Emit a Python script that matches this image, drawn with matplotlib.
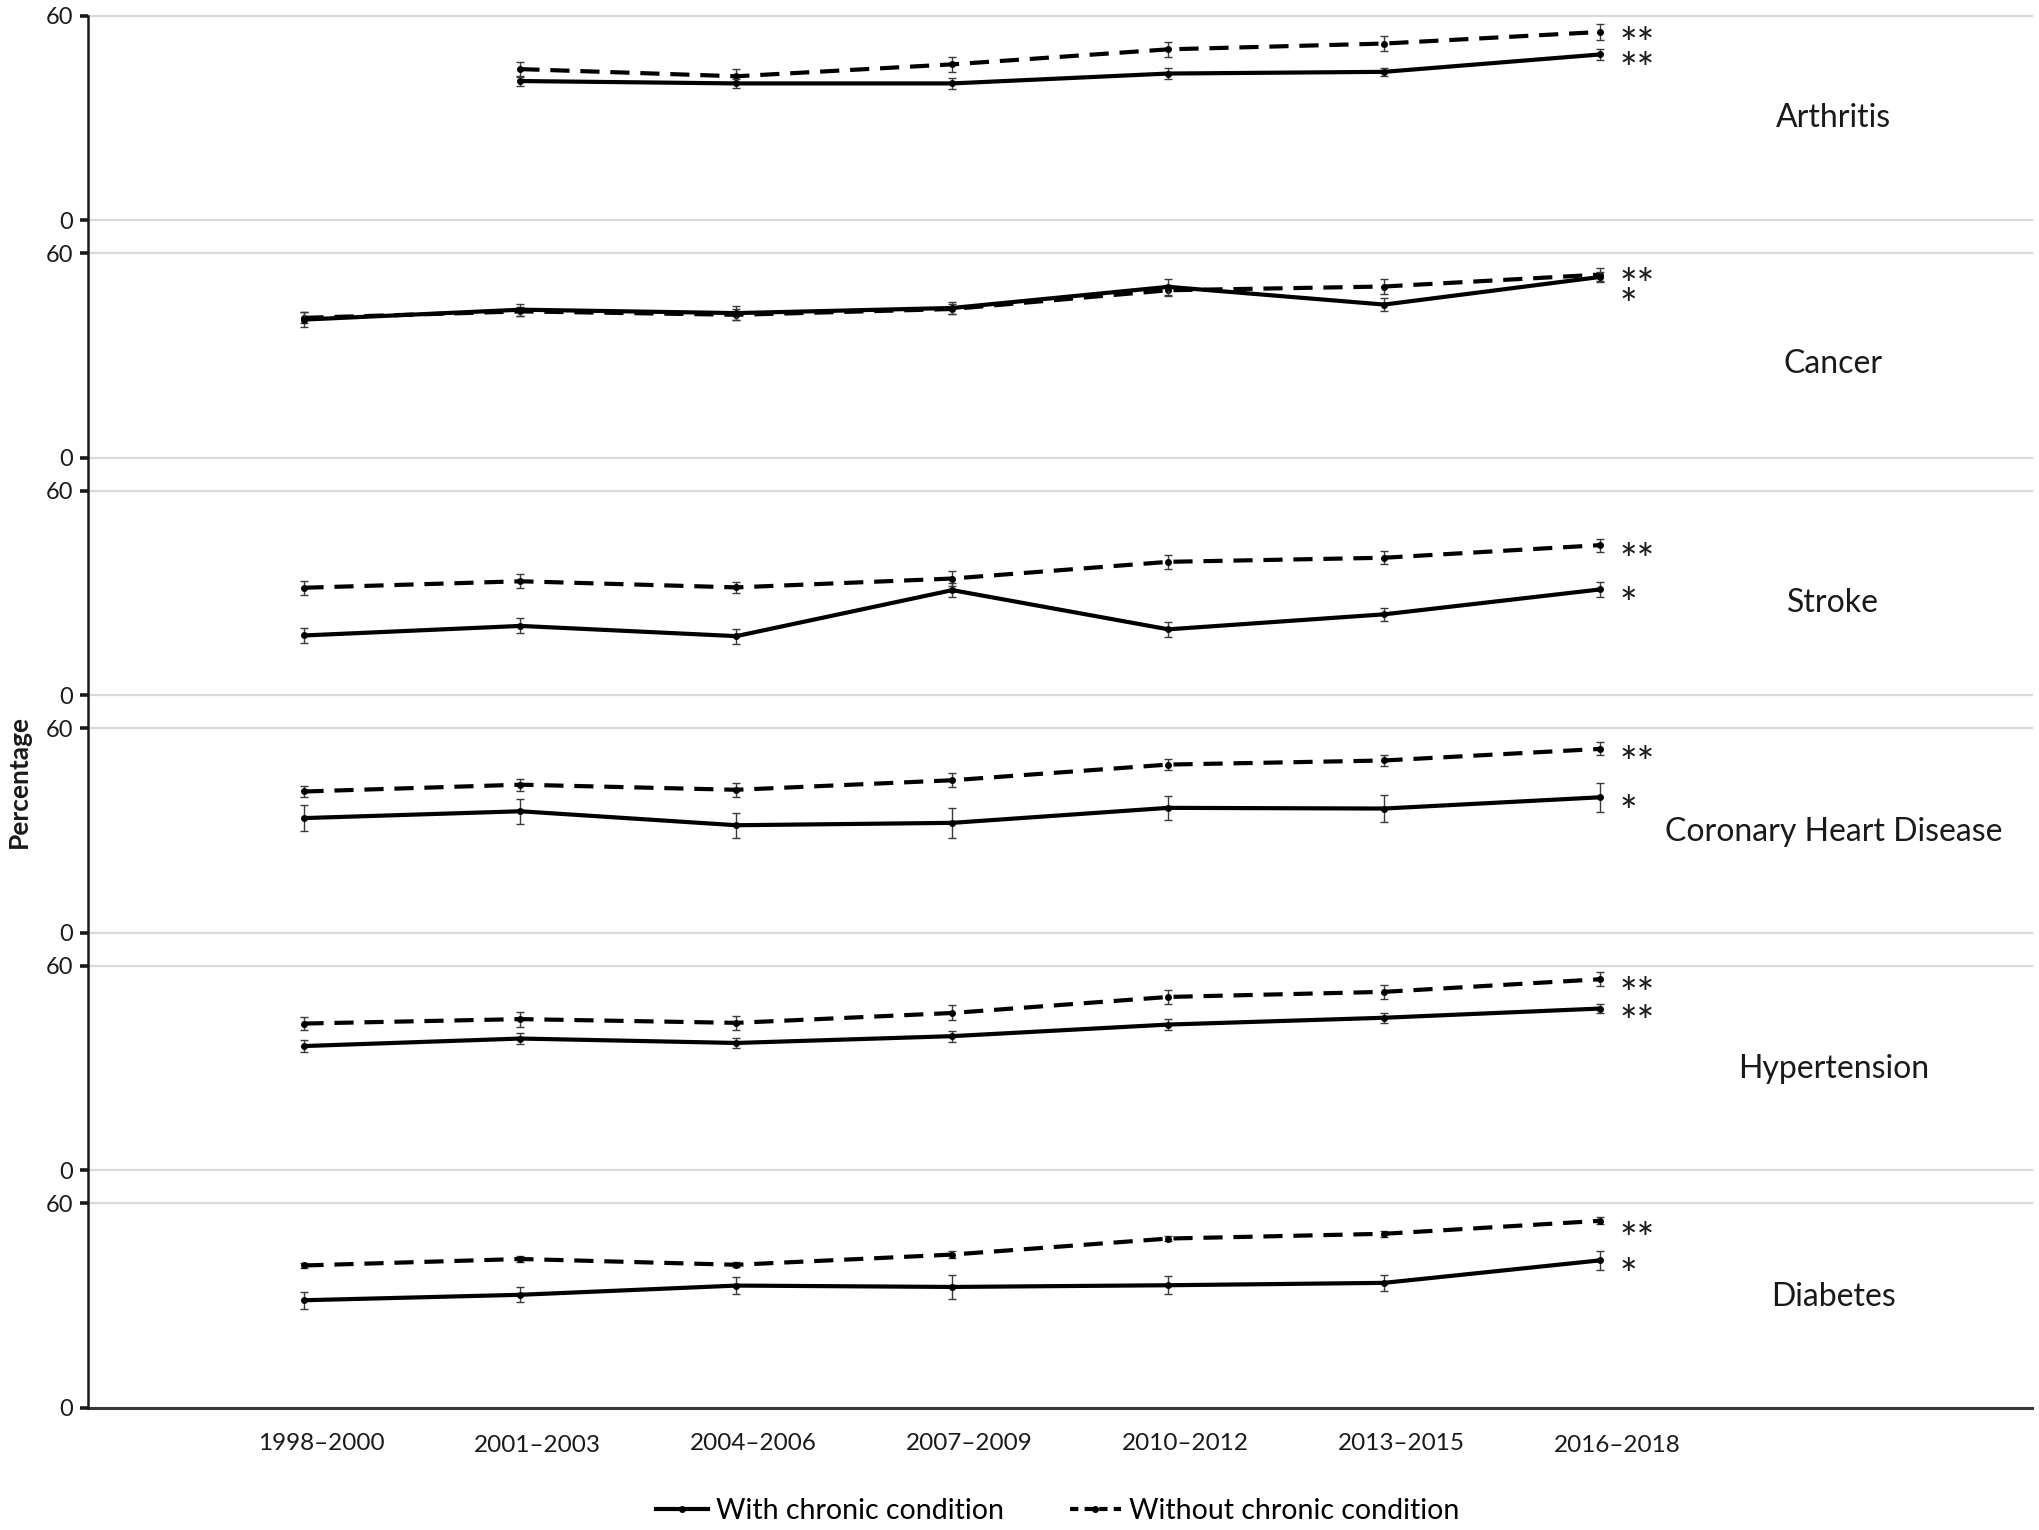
import numpy as np
import matplotlib
matplotlib.use("Agg")
import matplotlib.pyplot as plt
from matplotlib.lines import Line2D
import matplotlib.transforms as mtransforms

plt.rcParams['font.family'] = ['Lato', 'DejaVu Sans']

# ---------------- data ----------------
periods = ["1998–2000", "2001–2003", "2004–2006", "2007–2009",
           "2010–2012", "2013–2015", "2016–2018"]
conditions = ["Arthritis", "Cancer", "Stroke", "Coronary Heart Disease",
              "Hypertension", "Diabetes"]

nan = np.nan
with_vals = [
    [nan, 40.8, 40.1, 40.1, 43.0, 43.5, 48.6],
    [40.5, 43.4, 42.4, 43.9, 50.1, 44.9, 53.0],
    [17.5, 20.3, 17.3, 30.8, 19.3, 23.7, 31.0],
    [33.6, 35.6, 31.5, 32.2, 36.6, 36.4, 39.7],
    [36.4, 38.6, 37.3, 39.3, 42.7, 44.7, 47.4],
    [31.5, 33.1, 35.8, 35.4, 35.9, 36.6, 43.2],
]
with_err = [
    [nan, 1.5, 1.3, 1.5, 1.6, 1.2, 1.6],
    [2.2, 1.8, 2.0, 1.8, 2.3, 1.8, 1.5],
    [2.2, 2.2, 2.2, 2.0, 2.2, 1.9, 2.1],
    [3.9, 3.7, 3.7, 4.4, 3.6, 4.0, 4.3],
    [1.7, 1.7, 1.6, 1.6, 1.5, 1.4, 1.4],
    [2.5, 2.2, 2.4, 3.4, 2.7, 2.4, 2.7],
]
without_vals = [
    [nan, 44.3, 42.2, 45.7, 50.1, 51.8, 55.2],
    [41.0, 42.9, 41.9, 43.6, 49.1, 50.2, 53.7],
    [31.5, 33.4, 31.6, 34.2, 39.1, 40.3, 44.0],
    [41.4, 43.4, 41.9, 44.7, 49.3, 50.5, 53.9],
    [43.0, 44.3, 43.2, 46.1, 50.8, 52.3, 56.0],
    [41.7, 43.6, 41.9, 44.9, 49.6, 51.0, 54.8],
]
without_err = [
    [nan, 2.2, 2.0, 2.2, 2.1, 2.3, 2.3],
    [1.6, 1.4, 1.6, 1.4, 1.6, 2.2, 2.0],
    [2.0, 2.0, 1.6, 2.2, 2.0, 1.9, 1.9],
    [1.7, 1.8, 2.0, 2.0, 1.7, 1.7, 1.9],
    [1.9, 2.2, 2.0, 2.2, 2.0, 2.0, 2.0],
    [0.6, 0.8, 0.7, 1.0, 0.8, 0.8, 1.0],
]
# significance markers and where they sit
with_stars = ["**", "*", "*", "*", "**", "*"]
with_star_y = [47.7, 48.3, 30.3, 39.0, 46.9, 42.4]
without_stars = ["**", "**", "**", "**", "**", "**"]
without_star_y = [55.2, 54.0, 43.0, 53.2, 55.2, 52.9]
label_y = [29.9, 27.5, 27.1, 29.4, 29.8, 32.5]

y_ticks = [0, 60]

# ---------------- layout ----------------
W, H = 2040, 1530
fig = plt.figure(figsize=(W / 100, H / 100), dpi=100)

left_px, right_px = 88.5, 2032
top0_px, step_px, ph_px = 15.6, 237.5, 204.5

STAR_FS = 30
x = np.arange(len(periods))
axes = []
for i, cond in enumerate(conditions):
    top = top0_px + i * step_px
    ax = fig.add_axes([left_px / W, 1 - (top + ph_px) / H,
                       (right_px - left_px) / W, ph_px / H])
    axes.append(ax)
    ax.set_xlim(-1, 8)
    ax.set_ylim(0, 60)
    for s in ax.spines.values():
        s.set_visible(False)
    ax.set_yticks(y_ticks)
    ax.set_yticklabels([str(t) for t in y_ticks], fontsize=17)
    ax.tick_params(axis='y', direction='out', length=6, width=2.6,
                   color='#1a1a1a', pad=5, labelcolor='#1a1a1a')
    ax.set_xticks([])
    ax.patch.set_alpha(0)

    # gridlines at 0 and 60
    ax.axhline(60, color='#d9d9d9', lw=1.6, clip_on=False, zorder=0)
    if i < len(conditions) - 1:
        ax.axhline(0, color='#d9d9d9', lw=1.6, clip_on=False, zorder=0)
    else:
        ax.axhline(0, color='#3a3a3a', lw=2.2, clip_on=False, zorder=1)

    wv = np.array(with_vals[i]); we = np.array(with_err[i])
    ov = np.array(without_vals[i]); oe = np.array(without_err[i])

    ax.errorbar(x, ov, yerr=oe, color='black', lw=3.0, ls=(0, (4.6, 2.6)),
                marker='o', ms=4, ecolor='#3a3a3a', elinewidth=1.0,
                capsize=3, capthick=1.0, zorder=3)
    ax.errorbar(x, wv, yerr=we, color='black', lw=3.0, ls='-',
                marker='o', ms=4, ecolor='#3a3a3a', elinewidth=1.0,
                capsize=3, capthick=1.0, zorder=4)

    # significance stars (baseline shifted so the glyph centres on the value)
    star_tr = mtransforms.offset_copy(ax.transData, fig=fig, x=0,
                                      y=-0.62 * STAR_FS, units='points')
    ax.text(x[-1] + 0.09, without_star_y[i], without_stars[i],
            fontsize=STAR_FS, ha='left', va='baseline', color='#1a1a1a',
            transform=star_tr)
    ax.text(x[-1] + 0.09, with_star_y[i], with_stars[i],
            fontsize=STAR_FS, ha='left', va='baseline', color='#1a1a1a',
            transform=star_tr)

    # condition label
    ax.text(7.08, label_y[i], cond, fontsize=23, ha='center', va='center',
            color='#1a1a1a')

# continuous left axis line
top_f = 1 - top0_px / H
bot_f = 1 - (top0_px + 5 * step_px + ph_px) / H
fig.add_artist(Line2D([left_px / W, left_px / W], [bot_f, top_f],
                      color='#1a1a1a', lw=1.8, transform=fig.transFigure))

# x category labels (slightly staggered as in the original)
axb = axes[-1]
trans = mtransforms.blended_transform_factory(axb.transData, fig.transFigure)
label_offsets = [0, 3, 0, 0, 0, 0, 3]
for xi, lab, off in zip(x, periods, label_offsets):
    axb.text(xi + 0.08, 1 - (1443 + off) / H, lab, transform=trans,
             fontsize=17.5, ha='center', va='center', color='#1a1a1a')

# y label
fig.text(19 / W, 1 - 781 / H, "Percentage", rotation=90, fontsize=19,
         fontweight='bold', ha='center', va='center', color='#1a1a1a')

# legend
h_with = Line2D([], [], color='black', lw=3.0, marker='o', ms=4)
h_without = Line2D([], [], color='black', lw=3.0, ls=(0, (2.0, 1.5)),
                   marker='o', ms=4)
fig.legend([h_with, h_without],
           ["With chronic condition", "Without chronic condition"],
           loc='center', bbox_to_anchor=(0.5187, 1 - 1511 / H), ncol=2,
           frameon=False, fontsize=20.5, handlelength=1.8, handletextpad=0.3,
           columnspacing=2.3)

fig.savefig("out.png", dpi=100, facecolor='white')
